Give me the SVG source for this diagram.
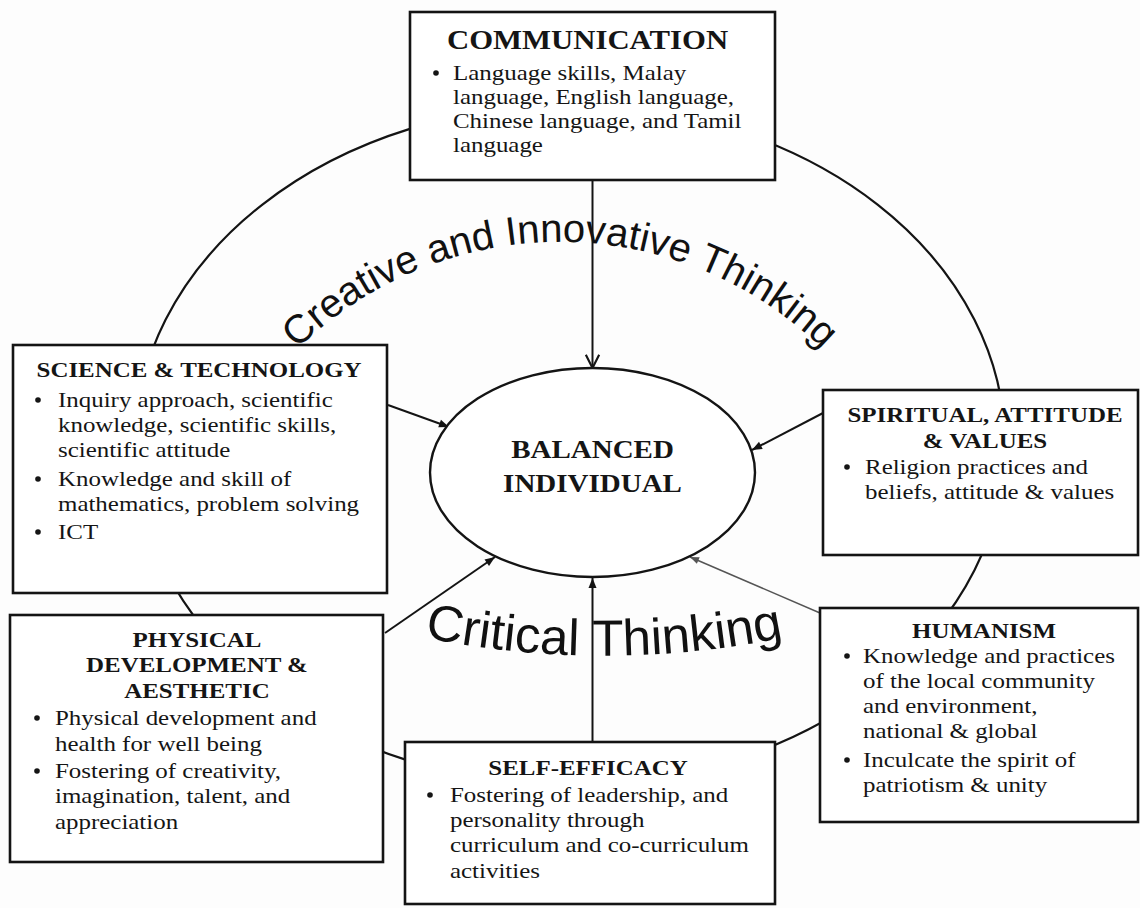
<svg xmlns="http://www.w3.org/2000/svg" width="1140" height="908" viewBox="0 0 1140 908">
  <defs>
    <style>
      .box { fill: #ffffff; stroke: #141414; stroke-width: 2.6; }
      .ring { fill: none; stroke: #141414; stroke-width: 2.2; }
      .core { fill: #ffffff; stroke: #141414; stroke-width: 2.4; }
      .link { fill: none; stroke: #141414; stroke-width: 2; }
      .link-soft { fill: none; stroke: #555555; stroke-width: 1.5; }
      .t { font-family: "Liberation Serif", "Times New Roman", serif; font-size: 21.5px; fill: #151515; }
      .h { font-family: "Liberation Serif", "Times New Roman", serif; font-size: 21.5px; font-weight: bold; fill: #151515; text-anchor: middle; }
      .arc { font-family: "Liberation Sans", Arial, sans-serif; fill: #111111; }
      .dot { fill: #151515; }
    </style>
    <marker id="ah" viewBox="0 0 10 10" refX="10" refY="5" markerWidth="13" markerHeight="10" markerUnits="userSpaceOnUse" orient="auto">
      <path d="M0,1 L10,5 L0,9 z" fill="#141414"/>
    </marker>
    <marker id="ah-soft" viewBox="0 0 10 10" refX="10" refY="5" markerWidth="12" markerHeight="9" markerUnits="userSpaceOnUse" orient="auto">
      <path d="M0,1 L10,5 L0,9 z" fill="#555555"/>
    </marker>
    <marker id="av" viewBox="0 0 12 12" refX="11" refY="6" markerWidth="16" markerHeight="18" markerUnits="userSpaceOnUse" orient="auto">
      <path d="M1,1 L11,6 L1,11" fill="none" stroke="#141414" stroke-width="1.6"/>
    </marker>
    <path id="arc-top" d="M235.2,429.5 A375,375 0 0 1 884.8,429.5"/>
    <path id="arc-bottom" d="M309,606 A900,900 0 0 0 899,606"/>
  </defs>

  <rect x="0" y="0" width="1140" height="908" fill="#fdfdfd"/>

  <!-- outer ring joining the six areas -->
  <g id="ring">
    <ellipse class="ring" cx="570" cy="445" rx="435" ry="340"/>
  </g>

  <!-- curved thinking labels -->
  <g id="labels">
    <text class="arc" font-size="40"><textPath href="#arc-top" startOffset="50%" text-anchor="middle">Creative and Innovative Thinking</textPath></text>
    <text class="arc" font-size="51"><textPath href="#arc-bottom" startOffset="50%" text-anchor="middle">Critical Thinking</textPath></text>
  </g>

  <!-- arrows into the centre -->
  <g id="connectors">
    <line class="link" x1="592.5" y1="181" x2="592.5" y2="368" marker-end="url(#av)"/>
    <line class="link" x1="388" y1="405" x2="449" y2="427" marker-end="url(#ah)"/>
    <line class="link" x1="823" y1="413" x2="752" y2="450" marker-end="url(#ah)"/>
    <line class="link" x1="385" y1="633" x2="495" y2="557" marker-end="url(#ah)"/>
    <line class="link-soft" x1="820" y1="613" x2="690" y2="557" marker-end="url(#ah-soft)"/>
    <line class="link" x1="592.5" y1="742" x2="592.5" y2="578" marker-end="url(#ah)"/>
  </g>

  <!-- centre -->
  <g id="balanced-individual">
    <ellipse class="core" cx="592.5" cy="472.5" rx="162.5" ry="104.5"/>
    <g transform="scale(1.16 1)">
      <text class="h" x="510.8" y="458" style="font-size:25px">BALANCED</text>
      <text class="h" x="510.8" y="492" style="font-size:25px">INDIVIDUAL</text>
    </g>
  </g>

  <g id="communication">
    <rect class="box" x="410" y="12" width="365" height="168"/>
    <circle class="dot" cx="436" cy="73" r="2.8"/>
    <g transform="scale(1.16 1)">
      <text class="h" x="506.5" y="49" style="font-size:26.5px">COMMUNICATION</text>
      <text class="t" x="390.5" y="80">Language skills, Malay</text>
      <text class="t" x="390.5" y="104">language, English language,</text>
      <text class="t" x="390.5" y="128">Chinese language, and Tamil</text>
      <text class="t" x="390.5" y="152">language</text>
    </g>
  </g>

  <g id="science-technology">
    <rect class="box" x="13" y="345" width="374" height="248"/>
    <circle class="dot" cx="38" cy="400" r="2.8"/>
    <circle class="dot" cx="38" cy="479" r="2.8"/>
    <circle class="dot" cx="38" cy="532" r="2.8"/>
    <g transform="scale(1.16 1)">
      <text class="h" x="171.6" y="377">SCIENCE &amp; TECHNOLOGY</text>
      <text class="t" x="50" y="407">Inquiry approach, scientific</text>
      <text class="t" x="50" y="432">knowledge, scientific skills,</text>
      <text class="t" x="50" y="457">scientific attitude</text>
      <text class="t" x="50" y="486">Knowledge and skill of</text>
      <text class="t" x="50" y="511">mathematics, problem solving</text>
      <text class="t" x="50" y="539">ICT</text>
    </g>
  </g>

  <g id="spiritual-attitude-values">
    <rect class="box" x="823" y="390" width="315" height="165"/>
    <circle class="dot" cx="847" cy="467" r="2.8"/>
    <g transform="scale(1.16 1)">
      <text class="h" x="849.1" y="422">SPIRITUAL, ATTITUDE</text>
      <text class="h" x="849.1" y="448">&amp; VALUES</text>
      <text class="t" x="745.7" y="474">Religion practices and</text>
      <text class="t" x="745.7" y="499">beliefs, attitude &amp; values</text>
    </g>
  </g>

  <g id="physical-aesthetic">
    <rect class="box" x="10" y="615" width="373" height="247"/>
    <circle class="dot" cx="37" cy="718" r="2.8"/>
    <circle class="dot" cx="37" cy="771" r="2.8"/>
    <g transform="scale(1.16 1)">
      <text class="h" x="169.8" y="647">PHYSICAL</text>
      <text class="h" x="169.8" y="672">DEVELOPMENT &amp;</text>
      <text class="h" x="169.8" y="698">AESTHETIC</text>
      <text class="t" x="47.4" y="725">Physical development and</text>
      <text class="t" x="47.4" y="751">health for well being</text>
      <text class="t" x="47.4" y="778">Fostering of creativity,</text>
      <text class="t" x="47.4" y="803">imagination, talent, and</text>
      <text class="t" x="47.4" y="829">appreciation</text>
    </g>
  </g>

  <g id="humanism">
    <rect class="box" x="820" y="608" width="318" height="214"/>
    <circle class="dot" cx="847" cy="656" r="2.8"/>
    <circle class="dot" cx="847" cy="760" r="2.8"/>
    <g transform="scale(1.16 1)">
      <text class="h" x="848.3" y="638">HUMANISM</text>
      <text class="t" x="744" y="663">Knowledge and practices</text>
      <text class="t" x="744" y="688">of the local community</text>
      <text class="t" x="744" y="713">and environment,</text>
      <text class="t" x="744" y="738">national &amp; global</text>
      <text class="t" x="744" y="767">Inculcate the spirit of</text>
      <text class="t" x="744" y="792">patriotism &amp; unity</text>
    </g>
  </g>

  <g id="self-efficacy">
    <rect class="box" x="405" y="742" width="370" height="162"/>
    <circle class="dot" cx="430" cy="795" r="2.8"/>
    <g transform="scale(1.16 1)">
      <text class="h" x="506.9" y="775">SELF-EFFICACY</text>
      <text class="t" x="387.9" y="802">Fostering of leadership, and</text>
      <text class="t" x="387.9" y="827">personality through</text>
      <text class="t" x="387.9" y="852">curriculum and co-curriculum</text>
      <text class="t" x="387.9" y="878">activities</text>
    </g>
  </g>
</svg>
